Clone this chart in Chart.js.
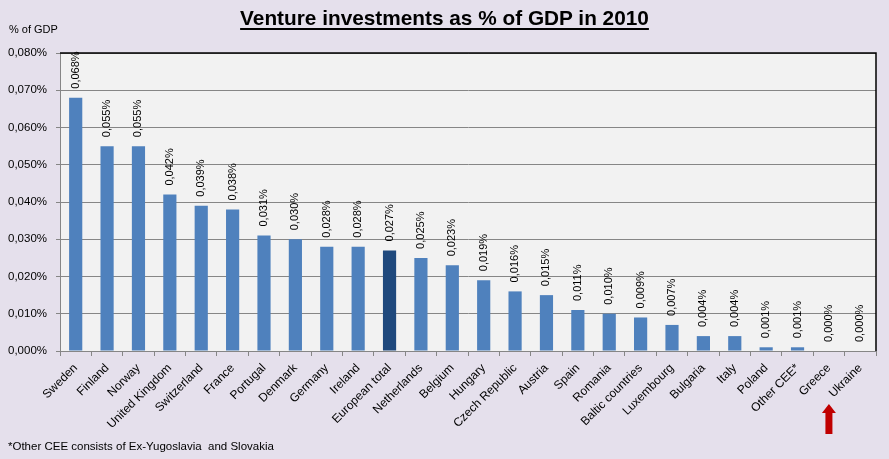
<!DOCTYPE html>
<html>
<head>
<meta charset="utf-8">
<script src="https://cdn.jsdelivr.net/npm/chart.js@4.4.1/dist/chart.umd.min.js"></script>
<style>
  html, body { margin: 0; padding: 0; background: #E5E0EC; }
  #wrap { position: relative; width: 889px; height: 459px; overflow: hidden; }
  canvas { position: absolute; left: 0; top: 0; }
  #title { position: absolute; left: 0; width: 889px; top: 6px; text-align: center;
    font-family: "Liberation Sans", Arial, sans-serif; font-weight: bold; font-size: 20.8px;
    color: #000; }
  #title span { text-decoration: underline; text-decoration-thickness: 2px; text-underline-offset: 3px; }
  #ylab { position: absolute; left: 9px; top: 23px; font-family: "Liberation Sans", Arial, sans-serif; font-size: 11px; color: #000; }
  #foot { position: absolute; left: 8px; top: 440px; font-family: "Liberation Sans", Arial, sans-serif; font-size: 11.5px; color: #000; white-space: pre; }
</style>
</head>
<body>
<div id="wrap">
  <canvas id="c" width="889" height="459"></canvas>
  <div id="title"><span>Venture investments as % of GDP in 2010</span></div>
  <div id="ylab">% of GDP</div>
  <div id="foot">*Other CEE consists of Ex-Yugoslavia  and Slovakia</div>
</div>
<script>
const categories = ["Sweden","Finland","Norway","United Kingdom","Switzerland","France","Portugal","Denmark","Germany","Ireland","European total","Netherlands","Belgium","Hungary","Czech Republic","Austria","Spain","Romania","Baltic countries","Luxembourg","Bulgaria","Italy","Poland","Other CEE*","Greece","Ukraine"];
const values = [0.068,0.055,0.055,0.042,0.039,0.038,0.031,0.030,0.028,0.028,0.027,0.025,0.023,0.019,0.016,0.015,0.011,0.010,0.009,0.007,0.004,0.004,0.001,0.001,0.000,0.000];
const yTicks = [0,0.01,0.02,0.03,0.04,0.05,0.06,0.07,0.08];
const highlightCategory = "European total";
const markedCategory = "Greece";

function fmt(v){ return v.toFixed(3).replace('.', ',') + '%'; }

const barColors = categories.map(c => c === highlightCategory ? '#1F497D' : '#4F81BD');

const frame = {
  id: 'frame',
  beforeDraw(chart) {
    const {ctx, chartArea: a} = chart;
    ctx.save();
    ctx.fillStyle = '#F2F2F2';
    ctx.fillRect(a.left, a.top, a.right - a.left, a.bottom - a.top);
    ctx.restore();
  },
  afterDraw(chart) {
    const {ctx, chartArea: a} = chart;
    ctx.save();
    ctx.strokeStyle = '#000';
    ctx.lineWidth = 1.5;
    ctx.beginPath();
    ctx.moveTo(a.left, a.top);
    ctx.lineTo(a.right, a.top);
    ctx.lineTo(a.right, a.bottom);
    ctx.stroke();
    // data labels
    const meta = chart.getDatasetMeta(0);
    ctx.fillStyle = '#000';
    ctx.font = '11px "Liberation Sans", Arial, sans-serif';
    ctx.textAlign = 'left';
    ctx.textBaseline = 'middle';
    meta.data.forEach((bar, i) => {
      ctx.save();
      ctx.translate(bar.x, bar.y - 9);
      ctx.rotate(-Math.PI / 2);
      ctx.fillText(fmt(values[i]), 0, 0);
      ctx.restore();
    });
    // red arrow under marked category
    const xs = chart.scales.x;
    const ax = xs.getPixelForValue(categories.indexOf(markedCategory));
    const top = 404, headB = 413, bot = 434;
    ctx.fillStyle = '#C00000';
    ctx.beginPath();
    ctx.moveTo(ax, top);
    ctx.lineTo(ax + 7, headB);
    ctx.lineTo(ax + 3.5, headB);
    ctx.lineTo(ax + 3.5, bot);
    ctx.lineTo(ax - 3.5, bot);
    ctx.lineTo(ax - 3.5, headB);
    ctx.lineTo(ax - 7, headB);
    ctx.closePath();
    ctx.fill();
    ctx.restore();
  }
};

new Chart(document.getElementById('c'), {
  type: 'bar',
  data: {
    labels: categories,
    datasets: [{ data: values, backgroundColor: barColors, barPercentage: 0.42, categoryPercentage: 1 }]
  },
  options: {
    responsive: false,
    animation: false,
    layout: { padding: { left: 0, right: 13, top: 53, bottom: 0 } },
    plugins: { legend: { display: false }, tooltip: { enabled: false }, title: { display: false } },
    scales: {
      x: {
        grid: { display: true, drawOnChartArea: false, drawTicks: true, tickLength: 5, color: '#868686', offset: true },
        border: { color: '#868686', width: 1 },
        ticks: { autoSkip: false, maxRotation: 45, minRotation: 45, color: '#000', padding: 5,
          font: { family: '"Liberation Sans", Arial, sans-serif', size: 12 } },
        afterFit(s) { s.height = 108; }
      },
      y: {
        min: 0, max: 0.08,
        afterBuildTicks(s) { s.ticks = yTicks.map(v => ({ value: v })); },
        grid: { color: '#868686', tickLength: 4, drawTicks: true },
        border: { color: '#868686', width: 1 },
        ticks: { color: '#000', padding: 9, callback: v => fmt(v),
          font: { family: '"Liberation Sans", Arial, sans-serif', size: 11.5 } },
        afterFit(s) { s.width = 60; }
      }
    }
  },
  plugins: [frame]
});
</script>
</body>
</html>
